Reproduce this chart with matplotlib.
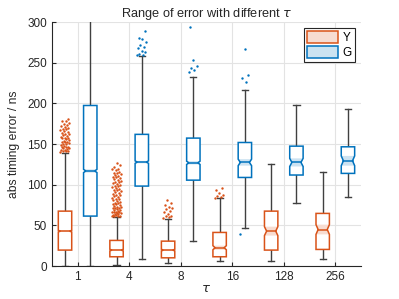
import matplotlib
matplotlib.use('Agg')
import matplotlib.pyplot as plt
from matplotlib.patches import Patch

plt.rcParams['font.family'] = ['Liberation Sans', 'DejaVu Sans']

taus = ['1', '4', '8', '16', '128', '256']
groups = ['Y', 'G']

# per-group box stats, one entry per tau
y_med = [43, 19.7, 19.7, 22.6, 43, 45]
y_q1 = [19.7, 11.5, 10.2, 11.5, 19.7, 20.5]
y_q3 = [67.6, 31.6, 30.7, 41.4, 67.6, 64.8]
y_lo = [0, 1, 3.3, 6.6, 6.1, 8.2]
y_hi = [139, 60.7, 57.8, 83.2, 126, 116]
y_ci = [1, 1, 1, 2.5, 5.5, 6]

g_med = [117, 127.9, 127, 127.5, 127.5, 129.5]
g_q1 = [61.5, 98.4, 105.7, 109, 112, 114]
g_q3 = [197.5, 162, 157.4, 152, 147.5, 146.7]
g_lo = [0, 8.2, 30.7, 46.3, 77, 84.4]
g_hi = [340, 258.6, 232.8, 216.4, 198, 192.6]
g_ci = [2, 1.5, 2, 4, 5, 6]

y_fliers = [
    [140, 141, 141, 142, 143, 143, 144, 145, 145, 146, 147, 147, 148, 149,
     150, 150, 151, 152, 153, 153, 154, 155, 156, 157, 157, 158, 159, 160,
     161, 162, 163, 164, 165, 166, 167, 168, 169, 170, 171, 172, 173, 175,
     176, 178, 179, 181],
    [61, 61, 62, 62, 63, 63, 64, 64, 65, 65, 66, 66, 67, 67, 68, 69, 69, 70,
     71, 71, 72, 73, 73, 74, 75, 76, 76, 77, 78, 79, 80, 81, 82, 83, 84, 85,
     86, 87, 88, 89, 90, 91, 92, 93, 94, 95, 96, 97, 98, 99, 100, 101, 102,
     103, 104, 105, 106, 107, 108, 109, 110, 111, 112, 113, 114, 115, 116,
     118, 119, 120, 122, 124, 127],
    [59, 60, 61, 62, 64, 66, 68, 70, 71, 73, 75, 78, 81],
    [84, 85, 86, 88, 90, 93, 96],
    [],
    [],
]
g_fliers = [
    [],
    [259, 260, 261, 263, 265, 268, 270, 272, 276, 279, 281, 289],
    [239, 241, 243, 246, 254, 294],
    [39, 226, 231, 235, 267],
    [],
    [],
]

ORANGE = '#D95319'
BLUE = '#0072BD'
WHISK = '#404040'
TXT = '#262626'

fig = plt.figure(figsize=(3.99, 2.99), dpi=100)
ax = fig.add_axes([0.130, 0.110, 0.775, 0.816])


def draw_box(ax, x, q1, med, q3, lo, hi, ci, fliers, color, w=0.26, nw=0.68):
    half = w / 2
    nh = half * nw
    cl, ch = med - ci, med + ci
    # whiskers
    ax.plot([x, x], [lo, q1], color=WHISK, lw=1.0, zorder=2)
    ax.plot([x, x], [q3, hi], color=WHISK, lw=1.0, zorder=2)
    ax.plot([x - 0.06, x + 0.06], [lo, lo], color=WHISK, lw=1.0, zorder=2)
    ax.plot([x - 0.06, x + 0.06], [hi, hi], color=WHISK, lw=1.0, zorder=2)
    # box outline with notch
    xs = [x - half, x - half, x - nh, x - half, x - half,
          x + half, x + half, x + nh, x + half, x + half]
    ys = [q1, cl, med, ch, q3, q3, ch, med, cl, q1]
    ax.fill(xs, ys, facecolor='white', edgecolor=color, lw=1.1, zorder=3)
    # shaded notch
    ax.fill([x - half, x - nh, x - half, x + half, x + nh, x + half],
            [cl, med, ch, ch, med, cl], facecolor=color, alpha=0.2,
            edgecolor='none', zorder=4)
    ax.plot([x - nh, x + nh], [med, med], color=color, lw=1.1, zorder=5)
    if fliers:
        jit = [((i * 0.6180339) % 1 - 0.5) * 0.18 for i in range(len(fliers))]
        ax.scatter([x + j for j in jit], fliers, s=3, color=color,
                   linewidths=0, zorder=6)


off = 0.245
for i in range(len(taus)):
    pos = i + 1
    draw_box(ax, pos - off, y_q1[i], y_med[i], y_q3[i], y_lo[i], y_hi[i],
             y_ci[i], y_fliers[i], ORANGE)
    draw_box(ax, pos + off, g_q1[i], g_med[i], g_q3[i], g_lo[i], g_hi[i],
             g_ci[i], g_fliers[i], BLUE)

ax.set_xlim(0.5, len(taus) + 0.5)
ax.set_ylim(0, 300)
ax.set_xticks(range(1, len(taus) + 1))
ax.set_xticklabels(taus)
ax.set_yticks([0, 50, 100, 150, 200, 250, 300])
ax.grid(True, color='#e3e3e3', lw=0.8)
ax.set_axisbelow(True)
for s in ['top', 'right']:
    ax.spines[s].set_visible(False)
for s in ['left', 'bottom']:
    ax.spines[s].set_color(TXT)
    ax.spines[s].set_linewidth(0.8)
ax.tick_params(direction='in', length=3, width=0.8, labelsize=8.5,
               colors=TXT, labelcolor=TXT)

ax.set_title(r'Range of error with different $\tau$', fontsize=9.2,
             color=TXT, pad=4)
ax.set_ylabel('abs timing error / ns', fontsize=8.7, color=TXT, labelpad=5)
ax.set_xlabel(r'$\tau$', fontsize=9.5, color=TXT, labelpad=0)

handles = [Patch(facecolor=(0.85, 0.33, 0.1, 0.2), edgecolor=ORANGE, lw=1.1),
           Patch(facecolor=(0.0, 0.45, 0.74, 0.2), edgecolor=BLUE, lw=1.1)]
leg = ax.legend(handles, groups, loc='upper right', fontsize=8.5,
                fancybox=False, framealpha=1, edgecolor=TXT,
                handlelength=2.6, handleheight=1.1, borderpad=0.25,
                labelspacing=0.2, handletextpad=0.4, borderaxespad=0,
                bbox_to_anchor=(0.98, 0.975))
leg.get_frame().set_linewidth(0.8)

fig.savefig('out.png', dpi=100)
